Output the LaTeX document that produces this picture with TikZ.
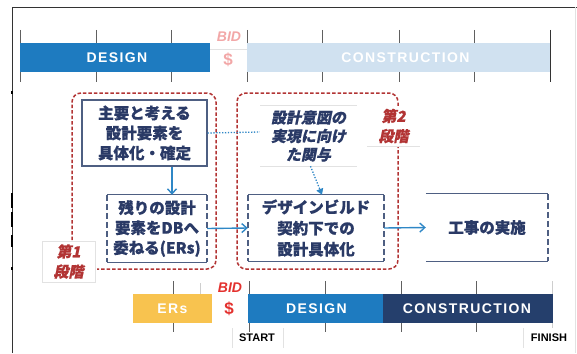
\documentclass[tikz,border=0pt]{standalone}
\usepackage{fontspec}
\usetikzlibrary{arrows.meta}
\newfontfamily\jp{Noto Sans CJK JP}[BoldFeatures={FakeBold=0.8}]
\newfontfamily\jpsl{Noto Sans CJK JP}[FakeSlant=0.2, BoldFeatures={FakeBold=0.8}]
\newfontfamily\lat{Liberation Sans}[LetterSpace=10]
\newfontfamily\latn{Liberation Sans}
\definecolor{dblue}{HTML}{1E7BC0}
\definecolor{lblue}{HTML}{D0E1F0}
\definecolor{navy}{HTML}{253F6C}
\definecolor{yel}{HTML}{F8C34F}
\definecolor{txt}{HTML}{2A3A66}
\definecolor{bord}{HTML}{4E5F82}
\definecolor{phred}{HTML}{B23434}
\definecolor{arrb}{HTML}{2F87C6}
\definecolor{pinkb}{HTML}{F2A7A7}
\definecolor{redb}{HTML}{E3312E}
\definecolor{tickc}{HTML}{606060}
\definecolor{faint}{HTML}{E2E2E2}
\tikzset{
  bar/.style={draw=none, inner sep=0, minimum height=29pt},
  bartext/.style={text=white, font=\lat\bfseries\fontsize{14}{14}\selectfont, inner sep=0},
  tick/.style={draw=tickc, line width=0.8pt},
  ftick/.style={draw=faint!80!gray, line width=0.8pt},
  jbox/.style={inner sep=0, align=center, text=txt, font=\jp\bfseries\fontsize{15.5}{20}\selectfont},
  boxline/.style={draw=bord, line width=1.1pt},
  boxside/.style={draw=bord, line width=1.8pt, dash pattern=on 6pt off 3pt},
  phase/.style={draw=phred, line width=1.5pt, dash pattern=on 3.5pt off 2pt, rounded corners=9pt},
  phlabel/.style={inner sep=0, align=center, text=phred, font=\jpsl\bfseries\fontsize{15}{20}\selectfont},
  arr/.style={draw=arrb, line width=1.4pt, -{Straight Barb[length=5pt,width=9pt]}},
  dotl/.style={draw=arrb, line width=1.3pt, dash pattern=on 1.3pt off 1.6pt},
  bid/.style={inner sep=0, font=\latn\bfseries\itshape\fontsize{14}{14}\selectfont},
  dollar/.style={inner sep=0, font=\latn\bfseries\fontsize{17}{17}\selectfont},
  se/.style={inner sep=0, font=\latn\bfseries\fontsize{11}{11}\selectfont}
}
\begin{document}
\begin{tikzpicture}[x=1pt,y=-1pt]
\useasboundingbox (0,0) rectangle (577,353);
% frame
\draw[line width=0.9pt, black!80] (12,353) -- (12,7) -- (577,7);
\draw[faint, line width=0.6pt] (575,7) -- (575,353);
\foreach \a/\b in {91/94, 193/208, 212/227, 235/247, 267/270}
  \draw[line width=2.2pt] (12,\a) -- (12,\b);
% top timeline
\foreach \x in {20,96,171,247,322,399,474}
  \draw[tick] (\x,30) -- (\x,82);
\draw[draw=black!80, line width=1pt] (550,30) -- (550,82);
\draw[faint, line width=0.8pt] (210,49) -- (247,49);
\node[bar, fill=dblue, minimum width=190pt] (d1) at (115,57.5) {};
\node[bartext] (d1t) at ([xshift=2pt]d1.center) {DESIGN};
\node[bar, fill=lblue, minimum width=303pt] (c1) at (398.5,57.5) {};
\node[bartext] (c1t) at ([xshift=7pt]c1.center) {CONSTRUCTION};
\node[bid, text=pinkb] (bid1) at (229,37) {BID};
\node[dollar, text=pinkb] (dol1) at (228,60) {\$};
% phase regions
\draw[phase] (72,240) -- (72,93) -- (216,93) -- (216,269) -- (97,269);
\draw[phase] (398,106) -- (398,93) -- (237,93) -- (237,269) -- (398,269) -- (398,146);
\node[draw=faint, fill=white, minimum width=53pt, minimum height=41pt, inner sep=0] (ph1) at (68.5,261.5) {};
\node[phlabel] (ph1t) at (ph1.center) {第1\\段階};
\node[fill=white, minimum width=53pt, minimum height=40pt, inner sep=0] (ph2) at (393.5,126) {};
\node[phlabel] (ph2t) at ([yshift=0pt]ph2.center) {第2\\段階};
\draw[faint, line width=1pt] (ph2.south west) -- (ph2.south east);
% boxes
\node[jbox, draw=bord, line width=1.1pt, fill=white, minimum width=125pt, minimum height=66pt] (boxA) at (144.5,133) {主要と考える\\設計要素を\\具体化・確定};
\node[jbox, fill=white, minimum width=100pt, minimum height=67pt] (boxB) at (157,228.5) {残りの設計\\要素をDBへ\\委ねる(ERs)};
\draw[boxline] (boxB.north west) -- (boxB.north east);
\draw[boxline] (boxB.south west) -- (boxB.south east);
\draw[boxside] (boxB.north west) -- (boxB.south west);
\draw[boxside] (boxB.north east) -- (boxB.south east);
\node[jbox, fill=white, minimum width=136pt, minimum height=66pt, font=\jp\bfseries\fontsize{15.5}{21}\selectfont] (boxC) at (316,228) {デザインビルド\\契約下での\\設計具体化};
\draw[boxline] (boxC.north west) -- (boxC.north east);
\draw[boxline] (boxC.south west) -- (boxC.south east);
\draw[boxside] (boxC.north west) -- (boxC.south west);
\draw[boxside] (boxC.north east) -- (boxC.south east);
\node[jbox, minimum width=122pt, minimum height=67pt] (boxD) at (487,227.5) {工事の実施};
\draw[boxline] (boxD.north west) -- (boxD.north east);
\draw[boxline] (boxD.south west) -- (boxD.south east);
\draw[boxside] (boxD.north east) -- (boxD.south east);
\node[jbox, fill=white, minimum width=97pt, minimum height=60pt, font=\jpsl\bfseries\fontsize{15}{18.5}\selectfont] (intent) at (308.5,136) {設計意図の\\実現に向け\\た関与};
\draw[faint, line width=1pt] (intent.north west) -- (intent.north east);
\draw[faint, line width=1pt] (intent.south west) -- (intent.south east);
% connectors
\draw[arr] ([xshift=27.5pt]boxA.south) -- ([xshift=27.5pt]boxA.south |- boxB.north);
\draw[arr] (boxB.east) -- (boxC.west);
\draw[arr] (boxC.east) -- (boxD.west);
\draw[dotl] (boxA.east) -- ([yshift=4pt]intent.west);
\draw[dotl, -{Triangle[length=6pt,width=7pt]}] ([xshift=2pt]intent.south) -- ([xshift=6pt]boxC.north);
% bottom timeline
\foreach \x in {173,249,325,401,476}
  \draw[tick] (\x,281) -- (\x,332);
\draw[ftick] (200,283) -- (200,294);
\draw[ftick] (552,281) -- (552,328);
\draw[faint, line width=0.7pt] (232,328) -- (232,348);
\draw[faint, line width=0.7pt] (283,328) -- (283,348);
\draw[faint, line width=0.7pt] (523,328) -- (523,348);
\node[bar, fill=yel, minimum width=79pt] (ers) at (172.5,308.5) {};
\node[bartext] (erst) at (ers.center) {ERs};
\node[bar, fill=dblue, minimum width=135pt] (d2) at (315.5,308.5) {};
\node[bartext] (d2t) at ([xshift=1pt]d2.center) {DESIGN};
\node[bar, fill=navy, minimum width=170pt] (c2) at (468,308.5) {};
\node[bartext] (c2t) at ([xshift=-1pt]c2.center) {CONSTRUCTION};
\node[bid, text=redb] (bid2) at (230,288) {BID};
\node[dollar, text=redb] (dol2) at (229,309) {\$};
\node[se] (start) at (257,338) {START};
\node[se] (finish) at (549,338) {FINISH};
\end{tikzpicture}
\end{document}
